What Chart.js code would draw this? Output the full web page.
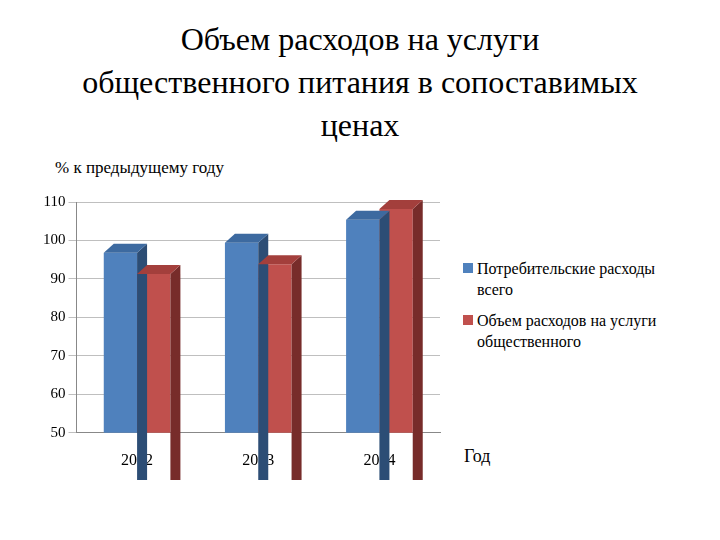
<!DOCTYPE html>
<html><head><meta charset="utf-8">
<script src="https://cdn.jsdelivr.net/npm/chart.js@4"></script>
<style>
body{margin:0;width:720px;height:540px;background:#fff;font-family:"Times New Roman","Liberation Serif","DejaVu Serif",serif;position:relative;overflow:hidden}
#title{position:absolute;top:18px;left:0;width:720px;text-align:center;font-size:32px;line-height:43px;color:#000}
#sub{position:absolute;left:55px;top:158px;font-size:17px}
#box{position:absolute;left:40px;top:190px;width:420px;height:290px}
#leg{position:absolute;left:463px;top:258px;font-size:16px;line-height:21px;width:200px}
#leg div{position:relative;padding-left:14px;margin-bottom:10px}
#leg span{position:absolute;left:0;top:5px;width:10px;height:10px}
#god{position:absolute;left:464px;top:446px;font-size:18px}
</style></head><body>
<div id="title">Объем расходов на услуги<br>общественного питания в сопоставимых<br>ценах</div>
<div id="sub">% к предыдущему году</div>
<div id="box"><canvas id="c" width="420" height="290"></canvas></div>
<div id="leg"></div>
<div id="god">Год</div>
<script>
const years = ['2012', '2013', '2014'];
const consumer = [96.8, 99.4, 105.4];
const catering = [91.3, 93.8, 108.2];
const seriesNames = ['Потребительские расходы всего', 'Объем расходов на услуги общественного'];
const colors = ['#4F81BD', '#C0504D'];
const dark = ['#2c4d75', '#772c2a'];
const serif = '"Times New Roman","Liberation Serif",serif';

document.getElementById('leg').innerHTML = seriesNames.map((n, i) =>
    '<div><span style="background:' + colors[i] + '"></span>' + n + '</div>').join('');

// side and top faces for the 3d look
const depth = {
    id: 'depth',
    afterDatasetsDraw(chart) {
        const ctx = chart.ctx, dx = 10, dy = 9;
        chart.data.datasets.forEach((ds, i) => {
            chart.getDatasetMeta(i).data.forEach(b => {
                const l = b.x - b.width / 2, r = b.x + b.width / 2, t = b.y, bot = b.base;
                ctx.fillStyle = dark[i];
                ctx.beginPath();
                ctx.moveTo(r, t); ctx.lineTo(r + dx, t - dy); ctx.lineTo(r + dx, bot - dy); ctx.lineTo(r, bot);
                ctx.fill();
                ctx.fillStyle = i ? '#a33f3c' : '#3d6aa0';
                ctx.beginPath();
                ctx.moveTo(l, t); ctx.lineTo(l + dx, t - dy); ctx.lineTo(r + dx, t - dy); ctx.lineTo(r, t);
                ctx.fill();
            });
        });
    }
};

new Chart(document.getElementById('c'), {
    type: 'bar',
    data: {
        labels: years,
        datasets: seriesNames.map((n, i) => ({
            label: n,
            data: i ? catering : consumer,
            backgroundColor: colors[i],
            categoryPercentage: 0.55,
            barPercentage: 1
        }))
    },
    options: {
        responsive: false,
        animation: false,
        layout: {padding: {top: 8, right: 20}},
        plugins: {legend: {display: false}, tooltip: {enabled: false}},
        scales: {
            y: {
                min: 50, max: 110,
                ticks: {stepSize: 10, color: '#000', font: {family: serif, size: 15}},
                grid: {color: '#bfbfbf'},
                border: {color: '#888'}
            },
            x: {
                ticks: {color: '#000', font: {family: serif, size: 16}, padding: 10},
                grid: {display: false},
                border: {color: '#888'}
            }
        }
    },
    plugins: [depth]
});
</script>
</body></html>
